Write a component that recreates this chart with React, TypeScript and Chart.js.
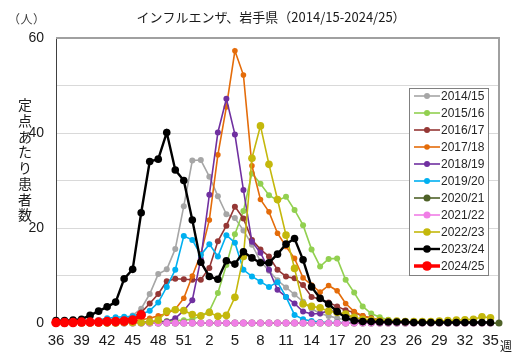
import React, { useEffect, useRef } from 'react';
import { Chart, registerables } from 'chart.js';
Chart.register(...registerables);

const weekLabels = [
  '36','37','38','39','40','41','42','43','44','45','46','47','48','49','50','51','52',
  '1','2','3','4','5','6','7','8','9','10','11','12','13','14','15','16','17','18','19','20',
  '21','22','23','24','25','26','27','28','29','30','31','32','33','34','35','36'
];

const seasons = ['2014/15','2015/16','2016/17','2017/18','2018/19','2019/20','2020/21','2021/22','2022/23','2023/24','2024/25'];

const s201415 = [0.2,0.2,0.2,0.3,0.3,0.4,0.5,0.7,1.0,1.6, 3.0,6.1,10.3,11.3,15.6,24.6,34.2,34.3,30.8,26.7, 22.9,22.1,19.5,16.5,13.0,11.0,9.0,7.5,6.0,4.5, 3.0,2.0,1.5,1.0,0.7,0.5,0.4,0.3,0.3,0.2, 0.2,0.2,0.1,0.1,0.1,0.1,0.1,0.1,0.1,0.1, 0.1,0.1];
const s201516 = [0.1,0.1,0.1,0.1,0.1,0.1,0.1,0.1,0.1,0.2, 0.2,0.3,0.3,0.4,0.5,0.6,0.8,1.5,2.5,6.3, 12.2,18.7,23.6,31.5,29.3,26.9,25.8,26.6,23.8,20.6, 15.5,11.9,13.5,13.6,9.1,6.4,3.5,2.0,1.2,0.7, 0.4,0.3,0.2,0.2,0.1,0.1,0.1,0.1,0.1,0.1, 0.1,0.1];
const s201617 = [0.1,0.1,0.1,0.2,0.2,0.3,0.4,0.6,0.8,1.2, 2.2,4.1,6.1,8.8,9.3,9.2,9.1,9.1,11.6,17.2, 20.5,24.5,22.0,17.5,15.5,14.0,11.2,9.8,9.4,8.0, 5.5,5.0,4.3,3.5,2.7,2.2,1.5,1.0,0.6,0.4, 0.3,0.3,0.2,0.2,0.2,0.1,0.1,0.1,0.1,0.1, 0.1,0.1];
const s201718 = [0.1,0.1,0.1,0.1,0.1,0.2,0.2,0.3,0.4,0.5, 0.7,1.0,1.5,2.0,2.9,5.2,9.9,14.5,21.7,35.4, 45.5,57.3,52.2,33.1,26.0,23.4,18.9,16.1,13.6,9.5, 8.0,6.5,7.9,6.8,4.1,2.4,1.5,1.0,0.6,0.4, 0.3,0.2,0.2,0.2,0.1,0.1,0.1,0.1,0.1,0.1, 0.1,0.1];
const s201819 = [0.0,0.0,0.0,0.0,0.1,0.1,0.1,0.1,0.1,0.1, 0.1,0.2,0.2,0.3,1.0,2.6,4.8,13.5,27.0,40.1, 47.2,39.7,28.0,17.1,14.8,11.2,7.0,5.5,4.1,2.4, 1.9,2.0,2.6,2.4,1.7,1.0,0.6,0.4,0.3,0.2, 0.2,0.1,0.1,0.1,0.1,0.1,0.1,0.1,0.1,0.1, 0.1,0.1];
const s201920 = [0.2,0.2,0.3,0.3,0.4,0.6,1.0,1.2,1.3,1.4, 1.8,2.6,4.3,7.6,11.2,18.3,17.5,14.3,16.6,14.0, 18.5,16.9,11.2,9.8,8.7,7.6,8.6,5.5,1.7,0.8, 0.4,0.2,0.1,0.1,0.1,0.1,0,0,0,0, 0,0,0,0,0,0,0,0,0,0, 0,0];
const s202021 = [0,0,0,0,0,0,0,0,0,0, 0,0,0,0,0,0,0,0,0,0, 0,0,0,0,0,0,0,0,0,0, 0,0,0,0,0,0,0,0,0,0, 0,0,0,0,0,0,0,0,0,0, 0,0,0];
const s202122 = [0,0,0,0,0,0,0,0,0,0, 0,0,0,0,0,0,0,0,0,0, 0,0,0,0,0,0,0,0,0,0, 0,0,0,0,0,0,0,0,0,0, 0,0,0,0,0,0,0,0,0,0, 0,0];
const s202223 = [0,0,0,0,0,0,0,0,0.1,0.1, 0.1,0.2,0.6,2.5,2.8,2.6,1.8,1.5,2.2,1.4, 1.6,5.4,14.0,34.7,41.5,33.4,26.0,18.5,11.5,4.0, 3.5,3.2,2.5,2.2,1.9,1.2,0.8,0.6,0.5,0.4, 0.4,0.3,0.3,0.3,0.3,0.4,0.5,0.6,0.7,0.8, 1.3,1.1];
const s202324 = [0.5,0.5,0.6,0.8,1.6,2.5,3.4,4.4,9.3,11.3, 23.2,34.0,34.5,40.1,32.2,30.0,21.7,12.8,9.8,9.2, 13.1,12.4,15.0,13.7,12.7,12.7,14.5,16.6,17.8,13.3, 7.6,5.2,4.0,2.4,1.1,0.5,0.3,0.3,0.2,0.2, 0.2,0.2,0.1,0.1,0.1,0.1,0.1,0.1,0.1,0.1, 0.1,0.1];
const s202425 = [0.1,0.1,0.1,0.2,0.2,0.2,0.3,0.3,0.4,0.6,1.7];

const seriesData = [s201415, s201516, s201617, s201718, s201819, s201920, s202021, s202122, s202223, s202324, s202425];
const colors = ['#a6a6a6','#92d050','#953735','#e46c0a','#7030a0','#00b0f0','#4f6228','#f07ee6','#c4b80c','#000000','#ff0000'];
const radii = [3, 3, 3, 2.8, 3, 3, 3.5, 3.5, 3.8, 3.8, 4.8];
const widths = [1.6, 1.6, 1.6, 1.6, 1.6, 1.6, 1.6, 1.6, 1.6, 2.4, 3.5];

const yTitle = '定点あたり患者数';
const chartTitle = 'インフルエンザ、岩手県（2014/15-2024/25）';
const unitParts = ['（', '人', '）'];

const decor = {
  id: 'decor',
  beforeDatasetsDraw(chart: any) {
    const { ctx, chartArea } = chart;
    ctx.save();
    ctx.strokeStyle = '#a0a0a0';
    ctx.lineWidth = 2;
    ctx.beginPath();
    ctx.moveTo(chartArea.left, chartArea.top);
    ctx.lineTo(chartArea.right, chartArea.top);
    ctx.lineTo(chartArea.right, chartArea.bottom);
    ctx.stroke();
    ctx.restore();
  },
  afterDraw(chart: any) {
    const { ctx } = chart;
    ctx.save();
    ctx.fillStyle = '#1a1a1a';
    ctx.textBaseline = 'middle';
    ctx.textAlign = 'center';
    ctx.font = '13px "Noto Sans CJK JP"';
    ctx.fillText(chartTitle, 271, 17);
    // unit label (人) with tight parentheses
    ctx.font = '12px "Noto Sans CJK JP"';
    ctx.fillStyle = '#404040';
    ctx.textAlign = 'left';
    ctx.fillText(unitParts[0], 8, 19);
    ctx.textAlign = 'center';
    ctx.fillText(unitParts[1], 26.5, 19);
    ctx.textAlign = 'left';
    ctx.fillText(unitParts[2], 33, 19);
    ctx.fillStyle = '#1a1a1a';
    ctx.textAlign = 'center';
    ctx.font = '14px "Noto Sans CJK JP"';
    const chars = Array.from(yTitle);
    chars.forEach((c, i) => ctx.fillText(c, 25, 105 + i * 15.7));
    ctx.font = '12px "Noto Sans CJK JP"';
    ctx.fillText('週', 506, 346);

    // legend
    const lx = 409, ly = 88, lw = 79, lh = 187;
    ctx.fillStyle = '#ffffff';
    ctx.fillRect(lx, ly, lw, lh);
    ctx.strokeStyle = '#808080';
    ctx.lineWidth = 1;
    ctx.strokeRect(lx + 0.5, ly + 0.5, lw, lh);
    ctx.textAlign = 'left';
    ctx.font = '12px "Liberation Sans", Arial, sans-serif';
    seasons.forEach((s, i) => {
      const y = 96 + i * 17;
      ctx.strokeStyle = colors[i];
      ctx.lineWidth = widths[i];
      ctx.beginPath();
      ctx.moveTo(414, y);
      ctx.lineTo(440, y);
      ctx.stroke();
      ctx.fillStyle = colors[i];
      ctx.beginPath();
      ctx.arc(427, y, radii[i], 0, Math.PI * 2);
      ctx.fill();
      ctx.fillStyle = '#262626';
      ctx.fillText(s, 441, y + 0.5);
    });
    ctx.restore();
  }
};

export default function App() {
  const ref = useRef<HTMLCanvasElement>(null);
  useEffect(() => {
    if (!ref.current) return;
    const chart = new Chart(ref.current, {
      type: 'line',
      data: {
        labels: weekLabels,
        datasets: seriesData.map((d, i) => ({
          label: seasons[i],
          data: d,
          borderColor: colors[i],
          backgroundColor: colors[i],
          pointBackgroundColor: colors[i],
          pointBorderColor: colors[i],
          pointBorderWidth: 0,
          pointRadius: radii[i],
          borderWidth: widths[i],
          tension: 0,
          fill: false,
          clip: false as any,
          order: seasons.length - i,
        })),
      },
      options: {
        animation: false,
        responsive: false,
        devicePixelRatio: 1,
        layout: { padding: { top: 38, right: 23, left: 0, bottom: 0 } },
        plugins: { legend: { display: false }, title: { display: false }, tooltip: { enabled: false } },
        scales: {
          x: {
            type: 'category',
            offset: false,
            grid: { display: false, drawTicks: false },
            border: { display: true, color: '#404040', width: 1 },
            ticks: {
              autoSkip: false,
              maxRotation: 0,
              minRotation: 0,
              padding: 9,
              color: '#1a1a1a',
              font: { family: '"Liberation Sans", Arial, sans-serif', size: 15 },
              callback: (v: any, idx: number) => (idx % 3 === 0 && idx < 52 ? weekLabels[idx] : ''),
            },
            afterFit: (s: any) => { s.height = 38; },
          },
          y: {
            min: 0,
            max: 60,
            grid: { color: '#d9d9d9', lineWidth: 1, drawTicks: false },
            border: { display: true, color: '#404040', width: 1 },
            ticks: {
              stepSize: 10,
              padding: 12,
              color: '#1a1a1a',
              font: { family: '"Liberation Sans", Arial, sans-serif', size: 14 },
              callback: (v: any) => (v % 20 === 0 ? String(v) : ''),
            },
            afterFit: (s: any) => { s.width = 56; },
          },
        },
      },
      plugins: [decor],
    });
    return () => chart.destroy();
  }, []);
  return (
    <div style={{ position: 'fixed', left: 0, top: 0, width: 522, height: 361, background: '#fff' }}>
      <canvas ref={ref} width={522} height={361} style={{ width: 522, height: 361, display: 'block' }} />
    </div>
  );
}
